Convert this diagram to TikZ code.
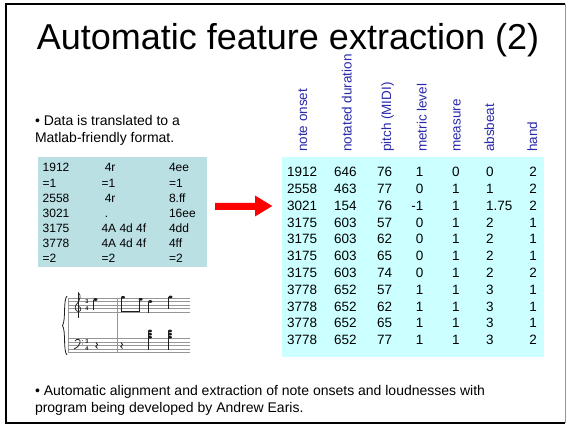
\documentclass[tikz,border=0pt]{standalone}
\usepackage{fontspec}
\setmainfont{Liberation Sans}
\definecolor{hdrblue}{RGB}{40,40,170}
\definecolor{rawfill}{RGB}{186,224,228}
\definecolor{tablefill}{RGB}{204,255,255}
\definecolor{staffgray}{RGB}{150,150,150}
\definecolor{inkdark}{RGB}{30,30,30}
\begin{document}
\begin{tikzpicture}[x=1pt,y=-1pt,
  every node/.style={inner sep=0pt, outer sep=0pt},
  hdr/.style={text=hdrblue, font=\fontsize{13.5}{16}\selectfont, rotate=90, anchor=base west},
  cell/.style={font=\fontsize{13.5}{16}\selectfont, anchor=base west},
  cellr/.style={cell, anchor=base east},
  raw/.style={font=\fontsize{12}{14}\selectfont, anchor=base west},
  body/.style={font=\fontsize{14}{17}\selectfont, anchor=base west},
  staffline/.style={draw=staffgray, line width=0.6pt},
  stem/.style={draw=inkdark, line width=0.7pt},
  head/.style={fill=inkdark}]
\useasboundingbox (0,0) rectangle (566,427);

% slide frame
\draw[line width=2pt] (565,4.5) -- (6,4.5) -- (6,423.5) -- (565,423.5);
\draw[staffgray, line width=1pt] (565,4.5) -- (565,423.5);

% title
\node[font=\fontsize{36}{40}\selectfont, anchor=base] (title) at (288,50) {Automatic feature extraction (2)};

% left bullet
\node[body] (say1) at (35,126) {• Data is translated to a};
\node[body] (say2) at (35,142.7) {Matlab-friendly format.};

% kern-style data box
\node[fill=rawfill, anchor=north west, minimum width=169pt, minimum height=110pt] (rawbox) at (38,157) {};
\foreach \a/\bx/\b/\c [count=\i from 0] in
  {1912/104.8/4r/4ee, =1/101.5/=1/=1, 2558/104.8/4r/8.ff, 3021/104.8/./16ee,
   3175/101.5/4A 4d 4f/4dd, 3778/101.5/4A 4d 4f/4ff, =2/101.5/=2/=2}{
  \node[raw] (raw-\i-1) at (42.7,{172+15.05*\i}) {\a};
  \node[raw] (raw-\i-2) at (\bx,{172+15.05*\i}) {\b};
  \node[raw] (raw-\i-3) at (169,{172+15.05*\i}) {\c};
}

% block arrow
\fill[red] (215,203) -- (255,203) -- (255,195.5) -- (272.3,206) -- (255,216.5)
  -- (255,210) -- (215,210) -- cycle;

% feature matrix
\node[fill=tablefill, anchor=north west, minimum width=262pt, minimum height=200pt] (tbl) at (282,157) {};
\node[hdr] (h1) at (307,152) {note onset};
\node[hdr] (h2) at (351.5,152) {notated duration};
\node[hdr] (h3) at (391,152) {pitch (MIDI)};
\node[hdr] (h4) at (426.5,152) {metric level};
\node[hdr] (h5) at (460.5,152) {measure};
\node[hdr] (h6) at (494,152) {absbeat};
\node[hdr] (h7) at (537,152) {hand};
\foreach \a/\b/\c/\d/\e/\f/\g [count=\i from 0] in
  {1912/646/76/1/0/0/2, 2558/463/77/0/1/1/2, 3021/154/76/-1/1/1.75/2,
   3175/603/57/0/1/2/1, 3175/603/62/0/1/2/1, 3175/603/65/0/1/2/1,
   3175/603/74/0/1/2/2, 3778/652/57/1/1/3/1, 3778/652/62/1/1/3/1,
   3778/652/65/1/1/3/1, 3778/652/77/1/1/3/2}{
  \node[cell]  (t-\i-1) at (287,{176.8+16.8*\i}) {\a};
  \node[cell]  (t-\i-2) at (334,{176.8+16.8*\i}) {\b};
  \node[cell]  (t-\i-3) at (377,{176.8+16.8*\i}) {\c};
  \node[cellr] (t-\i-4) at (423.5,{176.8+16.8*\i}) {\d};
  \node[cell]  (t-\i-5) at (452,{176.8+16.8*\i}) {\e};
  \node[cell]  (t-\i-6) at (486,{176.8+16.8*\i}) {\f};
  \node[cellr] (t-\i-7) at (537,{176.8+16.8*\i}) {\g};
}

% piano score excerpt
\foreach \k in {0,...,4}{
  \draw[staffline] (68,{298+3.5*\k}) -- (190,{298+3.5*\k});
  \draw[staffline] (68,{338.5+3.5*\k}) -- (190,{338.5+3.5*\k});
}
\draw[staffline] (68,298) -- (68,352.5);
\draw[staffline] (117,298) -- (117,352.5);
\draw[inkdark, line width=0.8pt] (67,296) .. controls (63,300) and (66,320) .. (62.5,325.5)
  .. controls (66,331) and (63,351) .. (67,355);
% treble clef
\draw[inkdark, line width=0.7pt] (78.5,318) -- (78.5,293) .. controls (81,295) and (81,299) .. (76,305)
  .. controls (74,308) and (76,312) .. (79,311.5) .. controls (82,311) and (81,306) .. (78,306.5);
% bass clef
\draw[inkdark, line width=0.8pt] (75,341) .. controls (77,338) and (81,339) .. (80,343)
  .. controls (79,346) and (77,348) .. (74,349);
\fill[inkdark] (82.3,340.7) circle (0.5) (82.3,344) circle (0.5);
% time signatures
\foreach \ty in {301.6,342.1}{
  \node[font=\bfseries\fontsize{5.5}{6}\selectfont, text=inkdark] at (87,\ty) {3};
  \node[font=\bfseries\fontsize{5.5}{6}\selectfont, text=inkdark] at (87,\ty+7) {4};
}
% upper staff notes
\fill[head] (95.5,299.5) ellipse [x radius=2, y radius=1.4];
\draw[stem] (93.7,299.8) -- (93.7,310.5);
\fill[head] (123,297.3) ellipse [x radius=2, y radius=1.4];
\fill[head] (140.7,299.3) ellipse [x radius=2, y radius=1.4];
\draw[stem] (121.2,297.6) -- (121.2,311.7);
\draw[stem] (138.9,299.6) -- (138.9,311.7);
\draw[inkdark, line width=1.3pt] (121.2,311.3) -- (138.9,311.3);
\fill[head] (150.3,301.5) ellipse [x radius=2, y radius=1.4];
\draw[stem] (148.5,301.8) -- (148.5,313);
\fill[head] (170.5,297) ellipse [x radius=2, y radius=1.4];
\draw[stem] (168.7,297.3) -- (168.7,309);
% lower staff rests and chords
\foreach \rx in {96.7,121.7}{
  \draw[inkdark, line width=0.8pt] (\rx-0.8,342.5) -- (\rx+0.9,344.5) -- (\rx-0.9,346.5) -- (\rx+0.8,348.5);
}
\foreach \cx in {150,170}{
  \fill[head] (\cx,331) ellipse [x radius=2, y radius=1.4];
  \fill[head] (\cx,334.2) ellipse [x radius=2, y radius=1.4];
  \fill[head] (\cx,337.3) ellipse [x radius=2, y radius=1.4];
  \draw[stem] (\cx-1.8,331.3) -- (\cx-1.8,350);
}

% bottom bullet
\node[body] (say3) at (35,396) {• Automatic alignment and extraction of note onsets and loudnesses with};
\node[body] (say4) at (35,412.5) {program being developed by Andrew Earis.};
\end{tikzpicture}
\end{document}
